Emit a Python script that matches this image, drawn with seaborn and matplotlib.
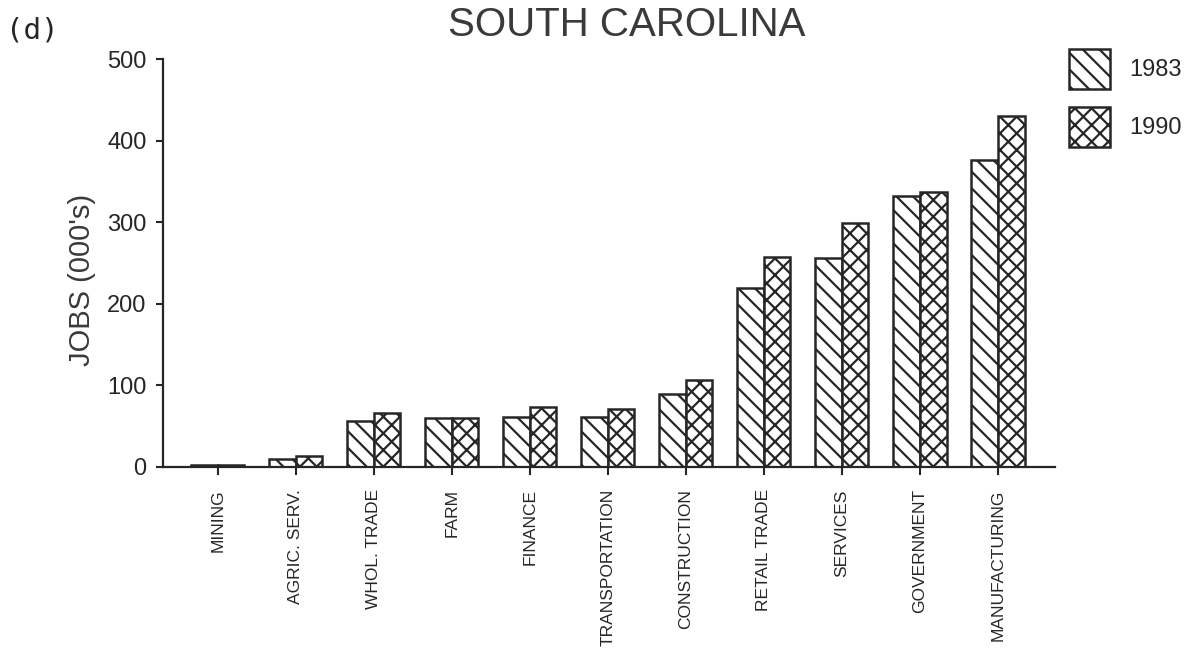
import matplotlib
matplotlib.use("Agg")
import matplotlib.pyplot as plt
from matplotlib.patches import Patch
import seaborn as sns
import pandas as pd

# Employment by sector, thousands of jobs
sectors = ["MINING", "AGRIC. SERV.", "WHOL. TRADE", "FARM", "FINANCE",
           "TRANSPORTATION", "CONSTRUCTION", "RETAIL TRADE", "SERVICES",
           "GOVERNMENT", "MANUFACTURING"]
jobs_1983 = [2, 10, 56, 60, 61, 61, 89, 219, 256, 332, 376]
jobs_1990 = [3, 13, 66, 60, 74, 71, 107, 257, 299, 337, 430]
years = ["1983", "1990"]
y_ticks = [0, 100, 200, 300, 400, 500]

ink = "#262626"

sns.set_theme(style="white")
plt.rcParams["font.family"] = ["Liberation Sans", "DejaVu Sans"]
plt.rcParams["hatch.linewidth"] = 1.6
plt.rcParams["hatch.color"] = ink

df = pd.DataFrame({
    "sector": sectors * 2,
    "jobs": jobs_1983 + jobs_1990,
    "year": [years[0]] * len(sectors) + [years[1]] * len(sectors),
})

fig = plt.figure(figsize=(11.91, 6.58), dpi=100)
ax = fig.add_axes([0.1369, 0.2903, 0.7489, 0.6200])

sns.barplot(data=df, x="sector", y="jobs", hue="year", order=sectors,
            hue_order=years, palette=["white", "white"], width=0.68, gap=0,
            edgecolor=ink, linewidth=1.8, legend=False, ax=ax)

hatches = ["\\\\", "xx"]
for cont, h in zip(ax.containers, hatches):
    for bar in cont:
        bar.set_hatch(h)
        bar.set_edgecolor(ink)

ax.set_xlim(-0.7, 10.73)
ax.set_ylim(0, 500)
ax.set_yticks(y_ticks)
ax.set_yticklabels([str(v) for v in y_ticks], fontsize=17, color=ink)
ax.set_xticks(range(len(sectors)))
ax.set_xticklabels(sectors, rotation=90, ha="center", va="top",
                   fontsize=12.5, color=ink)
ax.set_xlabel("")
ax.set_ylabel("")

for side in ["top", "right"]:
    ax.spines[side].set_visible(False)
for side in ["left", "bottom"]:
    ax.spines[side].set_color(ink)
    ax.spines[side].set_linewidth(1.6)

ax.tick_params(axis="y", which="major", left=True, length=5, width=1.5,
               pad=7, color=ink, direction="out")
ax.tick_params(axis="x", which="major", bottom=True, length=6, width=1.5,
               pad=10, color=ink, direction="out")

# Legend with hatched swatches, placed outside the plot area
handles = [Patch(facecolor="white", edgecolor=ink, linewidth=1.8, hatch=h)
           for h in hatches]
fig.legend(handles, years, loc="upper left",
           bbox_to_anchor=(0.8976, 0.926), frameon=False, fontsize=17,
           handlelength=1.75, handleheight=2.23, handletextpad=0.8,
           labelspacing=0.76, borderpad=0, borderaxespad=0,
           labelcolor=ink)

fig.text(0.5265, 0.962, "SOUTH CAROLINA", ha="center", va="center",
         fontsize=29, color="#3a3a3a")
fig.text(0.069, 0.574, "JOBS (000's)", ha="center", va="center",
         rotation=90, fontsize=21, color="#3a3a3a")
fig.text(0.005, 0.953, "(d)", ha="left", va="center", fontsize=21,
         color=ink, family=["DejaVu Sans Mono", "DejaVu Sans"])

fig.savefig("out.png", dpi=100, facecolor="white")
